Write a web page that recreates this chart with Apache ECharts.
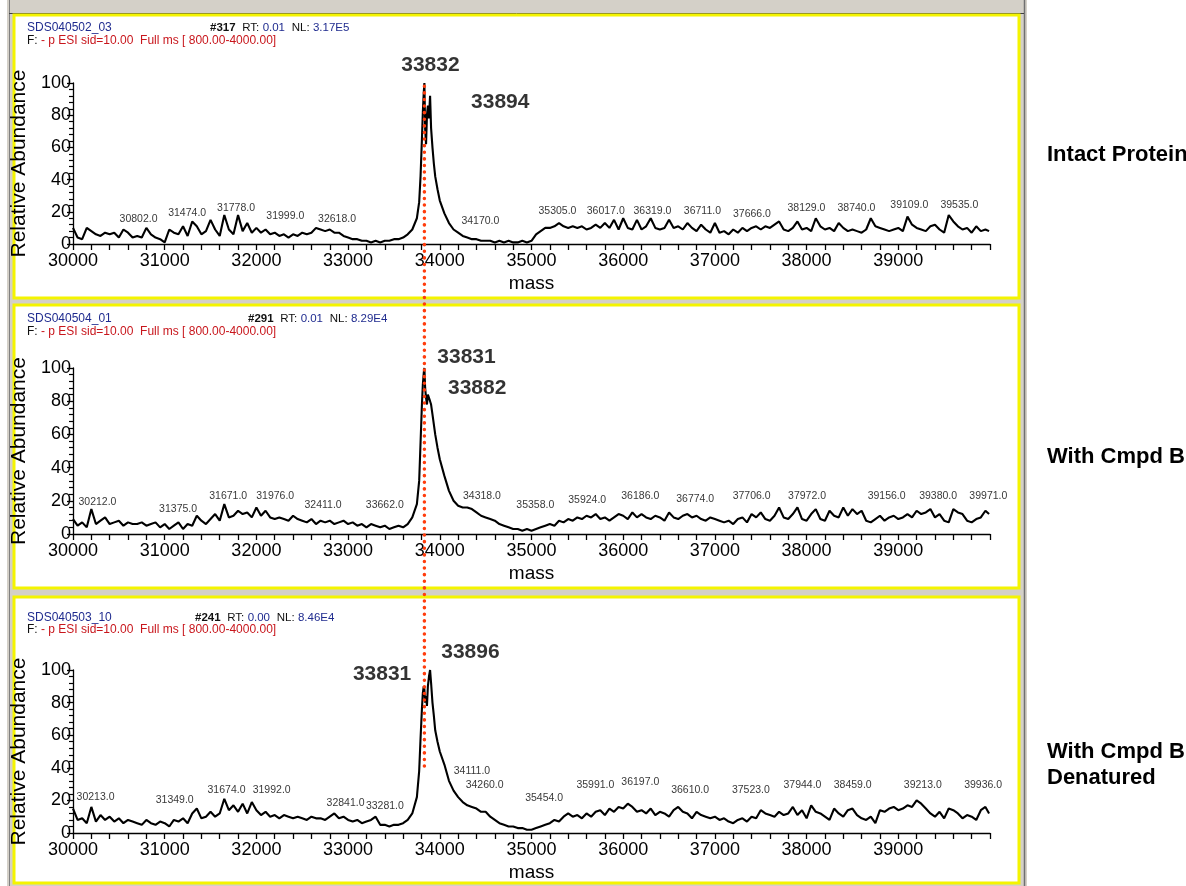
<!DOCTYPE html>
<html><head><meta charset="utf-8">
<script src="https://cdn.jsdelivr.net/npm/echarts@6/dist/echarts.min.js"></script>
<style>html,body{margin:0;padding:0;background:#fff;overflow:hidden}#c{width:1186px;height:886px}</style>
</head><body><div id="c"></div>
<script>
// ---- data ----
const massGrid = [
 30000,30050,30100,30150,30200,30250,30300,30350,30400,30450,
 30500,30550,30600,30650,30700,30750,30800,30850,30900,30950,
 31000,31050,31100,31150,31200,31250,31300,31350,31400,31450,
 31500,31550,31600,31650,31700,31750,31800,31850,31900,31950,
 32000,32050,32100,32150,32200,32250,32300,32350,32400,32450,
 32500,32550,32600,32650,32700,32750,32800,32850,32900,32950,
 33000,33050,33100,33150,33200,33250,33300,33350,33400,33450,
 33500,33550,33600,33650,33700,33750,
 33775,33790,33805,33815,33825,33832,33840,33850,33860,33870,33882,33894,33905,33920,33935,33950,33975,
 34000,34050,34100,34150,34200,34250,34300,34350,34400,34450,
 34500,34550,34600,34650,34700,34750,34800,34850,34900,34950,
 35000,35050,35100,35150,35200,35250,35300,35350,35400,35450,
 35500,35550,35600,35650,35700,35750,35800,35850,35900,35950,
 36000,36050,36100,36150,36200,36250,36300,36350,36400,36450,
 36500,36550,36600,36650,36700,36750,36800,36850,36900,36950,
 37000,37050,37100,37150,37200,37250,37300,37350,37400,37450,
 37500,37550,37600,37650,37700,37750,37800,37850,37900,37950,
 38000,38050,38100,38150,38200,38250,38300,38350,38400,38450,
 38500,38550,38600,38650,38700,38750,38800,38850,38900,38950,
 39000,39050,39100,39150,39200,39250,39300,39350,39400,39450,
 39500,39550,39600,39650,39700,39750,39800,39850,39900,39950,
 39990
];
const intactProtein = [
 10,4,3,10,8,6,5,7,6,7,
 4,9,7,4,5,4,10,6,4,3,
 1,9,7,6,11,5,14,11,6,8,
 15,9,5,18,9,6,18,8,13,7,
 10,7,9,6,7,5,6,4,6,5,
 7,6,7,10,9,8,9,7,7,5,
 4,3,3,2,2,1,2,1,2,2,
 3,3,4,6,9,16,
 26,42,65,82,94,100,72,62,80,86,78,92,72,60,50,42,34,
 27,19,13,9,7,5,4,3,3,2,
 2,2,1,2,1,2,1,1,2,1,
 2,6,8,10,10,11,13,11,10,11,
 10,11,9,10,12,10,13,10,15,9,
 16,10,9,15,9,11,16,10,9,10,
 15,10,11,9,13,10,8,12,9,7,
 13,7,8,6,9,7,10,8,10,11,
 9,11,10,12,14,9,8,10,14,9,
 10,8,16,11,9,10,8,13,10,8,
 9,8,7,9,16,11,10,9,8,9,
 10,8,17,12,10,9,8,11,12,9,
 7,18,14,11,9,10,7,11,8,9,
 8
];
const withCmpdB = [
 9,5,7,4,15,6,8,10,6,7,
 8,5,7,6,6,7,5,6,7,4,
 6,3,5,7,3,6,5,11,8,6,
 9,12,8,18,10,11,14,12,13,10,
 16,11,14,10,9,10,9,8,11,9,
 8,7,9,6,8,7,8,6,7,8,
 6,7,5,6,4,6,5,4,5,3,
 4,5,4,6,10,18,
 32,55,78,90,97,100,88,82,78,84,85,80,78,72,66,60,52,
 45,35,26,20,17,16,16,15,13,11,
 10,9,8,6,5,4,3,3,2,3,
 2,3,4,5,6,5,8,7,9,8,
 10,9,11,10,12,9,10,8,10,12,
 11,9,13,10,12,10,9,11,10,8,
 13,10,9,11,12,10,11,9,8,10,
 9,8,7,8,6,9,10,7,12,10,
 13,9,8,11,16,10,9,12,16,9,
 8,12,15,9,8,14,11,10,16,11,
 15,12,14,8,7,9,11,8,10,11,
 9,10,12,10,14,12,13,15,10,12,
 8,7,15,13,12,8,7,9,10,14,
 12
];
const denatured = [
 15,8,9,6,16,7,11,8,10,7,
 9,6,8,7,6,5,8,6,5,7,
 6,4,8,7,9,6,12,15,9,10,
 13,10,12,21,14,17,13,18,12,19,
 14,11,13,10,11,9,11,10,9,10,
 9,8,10,9,9,8,10,12,9,10,
 8,7,8,6,7,8,10,5,5,4,
 5,5,6,8,12,22,
 38,58,76,86,90,88,80,84,78,90,96,100,92,80,72,63,56,
 50,42,32,26,22,19,17,16,15,13,
 13,10,8,6,5,4,4,3,3,2,
 2,3,4,5,6,8,7,10,12,10,
 11,9,12,10,13,14,11,15,13,16,
 15,18,16,13,14,12,15,11,13,12,
 10,14,16,13,12,9,13,11,10,9,
 10,8,9,7,6,8,9,7,10,9,
 14,12,11,10,13,11,12,16,11,14,
 9,17,13,12,10,8,15,12,10,14,
 15,11,9,8,10,6,14,13,15,16,
 14,15,17,16,20,18,15,12,10,13,
 9,15,14,12,9,11,10,8,14,16,
 12
];
const peakMass1 = [30802,31474,31778,31999,32618,34170,35305,36017,36319,36711,37666,38129,38740,39109,39535];
const peakHeight1 = [10,14,17,12,10,9,15,15,15,15,13,17,17,19,19];
const peakMass2 = [30212,31375,31671,31976,32411,33662,34318,35358,35924,36186,36774,37706,37972,39156,39380,39971];
const peakHeight2 = [14,10,18,18,12,12,18,12,15,18,16,18,18,18,18,18];
const peakMass3 = [30213,31349,31674,31992,32841,33281,34111,34260,35454,35991,36197,36610,37523,37944,38459,39213,39936];
const peakHeight3 = [17,15,21,21,13,11,33,24,16,24,26,21,21,24,24,24,24];
const bigMass1 = [33832,33894], bigHeight1 = [100,92];
const bigMass2 = [33831,33882], bigHeight2 = [100,85];
const bigMass3 = [33831,33896], bigHeight3 = [90,100];
const fileNames = ['SDS040502_03','SDS040504_01','SDS040503_10'];
const scanNums = ['#317','#291','#241'];
const rtValues = ['0.01','0.01','0.00'];
const nlValues = ['3.17E5','8.29E4','8.46E4'];
const filterText = '- p ESI sid=10.00  Full ms [ 800.00-4000.00]';
const conditionLabels = ['Intact Protein','With Cmpd B','With Cmpd B\nDenatured'];
const xTickMin = 30000, xTickMax = 40000, xStep = 1000;
const yTickMin = 0, yTickMax = 100, yStep = 20;
const markerMass = 33832, markerTop = 98, markerBottom = 38;

// ---- layout / style ----
const FONT = "'Liberation Sans', Arial, Helvetica, sans-serif";
const panels = [
  {values:intactProtein, pm:peakMass1, ph:peakHeight1, bm:bigMass1, bh:bigHeight1,
   dx:[-8,-21,0,29,24,25,-2,-19,0,14,-24,-12,-18,1,12],
   top:83, height:161, frameY:15, frameH:283, h1:29, h2:42, scanX:210, condTop:142,
   bigLab:[{position:'top', offset:[6,-2]}, {position:'right', offset:[36,6]}]},
  {values:withCmpdB, pm:peakMass2, ph:peakHeight2, bm:bigMass2, bh:bigHeight2,
   dx:[5,-21,2,21,29,-24,13,-29,-29,0,1,-28,3,-26,5,1],
   top:368, height:166, frameY:305, frameH:283, h1:320, h2:333, scanX:248, condTop:444,
   bigLab:[{position:'right', offset:[8,-11]}, {position:'right', offset:[14,-5]}]},
  {values:denatured, pm:peakMass3, ph:peakHeight3, bm:bigMass3, bh:bigHeight3,
   dx:[3,-22,0,16,12,11,22,21,-29,-27,-1,11,-12,1,4,5,-1],
   top:670, height:163, frameY:597, frameH:286, h1:619, h2:631, scanX:195, condTop:739,
   bigLab:[{position:'left', offset:[-8,-12]}, {position:'right', offset:[6,-18]}]}
];
const GL = 73, GW = 917;

const grids=[], xAxes=[], yAxes=[], series=[], graphics=[];
graphics.push({id:'bg', type:'rect', z:-20, shape:{x:7,y:0,width:1020,height:886}, style:{fill:'#d4d0c8'}});
graphics.push({id:'bgl', type:'line', z:-19, shape:{x1:9.5,y1:0,x2:9.5,y2:886}, style:{stroke:'#808080',lineWidth:1}});
graphics.push({id:'bgr', type:'line', z:-19, shape:{x1:1024.5,y1:0,x2:1024.5,y2:886}, style:{stroke:'#707070',lineWidth:1.5}});
graphics.push({id:'bgt', type:'line', z:-19, shape:{x1:9,y1:13.5,x2:1024,y2:13.5}, style:{stroke:'#404040',lineWidth:1}});

panels.forEach((p,i)=>{
  graphics.push({id:'frame'+i, type:'rect', z:-10, shape:{x:14,y:p.frameY,width:1005,height:p.frameH},
    style:{fill:'#ffffff', stroke:'#f4f400', lineWidth:3}});
  graphics.push({id:'h1a'+i, type:'text', z:50, left:27, top:p.h1-7,
    style:{text:fileNames[i], font:'12px '+FONT, fill:'#1f2b8f'}});
  graphics.push({id:'h1b'+i, type:'text', z:50, left:p.scanX, top:p.h1-7,
    style:{text:'{s|'+scanNums[i]+'}  {k|RT:} {b|'+rtValues[i]+'}  {k|NL:} {b|'+nlValues[i]+'}',
      rich:{s:{fontSize:11.5,fontFamily:FONT,fill:'#111',fontWeight:'bold'},
            k:{fontSize:11.5,fontFamily:FONT,fill:'#111'},
            b:{fontSize:11.5,fontFamily:FONT,fill:'#1f2b8f'}}}});
  graphics.push({id:'h2'+i, type:'text', z:50, left:27, top:p.h2-7,
    style:{text:'{k|F:} {r|'+filterText+'}',
      rich:{k:{fontSize:12,fontFamily:FONT,fill:'#111'}, r:{fontSize:12,fontFamily:FONT,fill:'#c8161c'}}}});
  graphics.push({id:'cond'+i, type:'text', z:50, left:1047, top:p.condTop,
    style:{text:conditionLabels[i], font:'bold 22px '+FONT, fill:'#000', lineHeight:26}});

  grids.push({left:GL, width:GW, top:p.top, height:p.height, containLabel:false});
  xAxes.push({gridIndex:i, type:'value', min:xTickMin, max:xTickMax, interval:xStep,
    name:'mass', nameLocation:'middle', nameGap:30,
    nameTextStyle:{fontSize:19, fontFamily:FONT, color:'#000'},
    axisLine:{onZero:false, lineStyle:{color:'#000', width:1.3}},
    axisTick:{show:true, length:6, inside:false, lineStyle:{color:'#000', width:1.3}},
    minorTick:{show:true, splitNumber:5, length:6, lineStyle:{color:'#000', width:1.3}},
    splitLine:{show:false},
    axisLabel:{fontSize:18, fontFamily:FONT, color:'#000', margin:8,
      formatter:v=> v>=xTickMax ? '' : String(v)}});
  yAxes.push({gridIndex:i, type:'value', min:yTickMin, max:yTickMax, interval:yStep,
    name:'Relative Abundance', nameLocation:'middle', nameGap:29, nameRotate:90,
    nameTextStyle:{fontSize:21, fontFamily:FONT, color:'#000'},
    axisLine:{show:true, lineStyle:{color:'#000', width:1.3}},
    axisTick:{show:true, length:6, lineStyle:{color:'#000', width:1.3}},
    minorTick:{show:true, splitNumber:5, length:4, lineStyle:{color:'#000', width:1.2}},
    splitLine:{show:false},
    axisLabel:{fontSize:18, fontFamily:FONT, color:'#000', margin:2}});
  series.push({type:'line', xAxisIndex:i, yAxisIndex:i, showSymbol:false, symbol:'none',
    data: massGrid.map((m,j)=>[m, p.values[j]]),
    lineStyle:{color:'#000', width:2.1}, z:3, silent:true});
  series.push({type:'scatter', xAxisIndex:i, yAxisIndex:i, symbolSize:0, silent:true, z:4,
    data: p.pm.map((m,j)=>({value:[m, p.ph[j]], label:{offset:[p.dx[j],0]}})),
    label:{show:true, position:'top', distance:3, fontSize:10.5, fontFamily:FONT, color:'#000',
      formatter:q=>q.value[0].toFixed(1)}});
  series.push({type:'scatter', xAxisIndex:i, yAxisIndex:i, symbolSize:0, silent:true, z:5,
    data: p.bm.map((m,j)=>({value:[m, p.bh[j]],
      label:{show:true, position:p.bigLab[j].position, offset:p.bigLab[j].offset,
        fontSize:21, fontWeight:'bold', fontFamily:FONT, color:'#000',
        formatter:q=>String(q.value[0])}}))});
});

const chart = echarts.init(document.getElementById('c'), null, {renderer:'canvas'});
chart.setOption({animation:false, backgroundColor:'#ffffff', grid:grids, xAxis:xAxes, yAxis:yAxes,
  series:series, graphic:{elements:graphics}});
const pTop = chart.convertToPixel({xAxisIndex:0, yAxisIndex:0}, [markerMass, markerTop]);
const pBot = chart.convertToPixel({xAxisIndex:2, yAxisIndex:2}, [markerMass, markerBottom]);
chart.setOption({graphic:{elements:[{id:'marker', type:'line', z:100,
  shape:{x1:pTop[0], y1:pTop[1], x2:pBot[0], y2:pBot[1]},
  style:{stroke:'#ff3d0d', lineWidth:3.5, lineDash:[0.1,6.5], lineCap:'round'}}]}});
</script></body></html>
